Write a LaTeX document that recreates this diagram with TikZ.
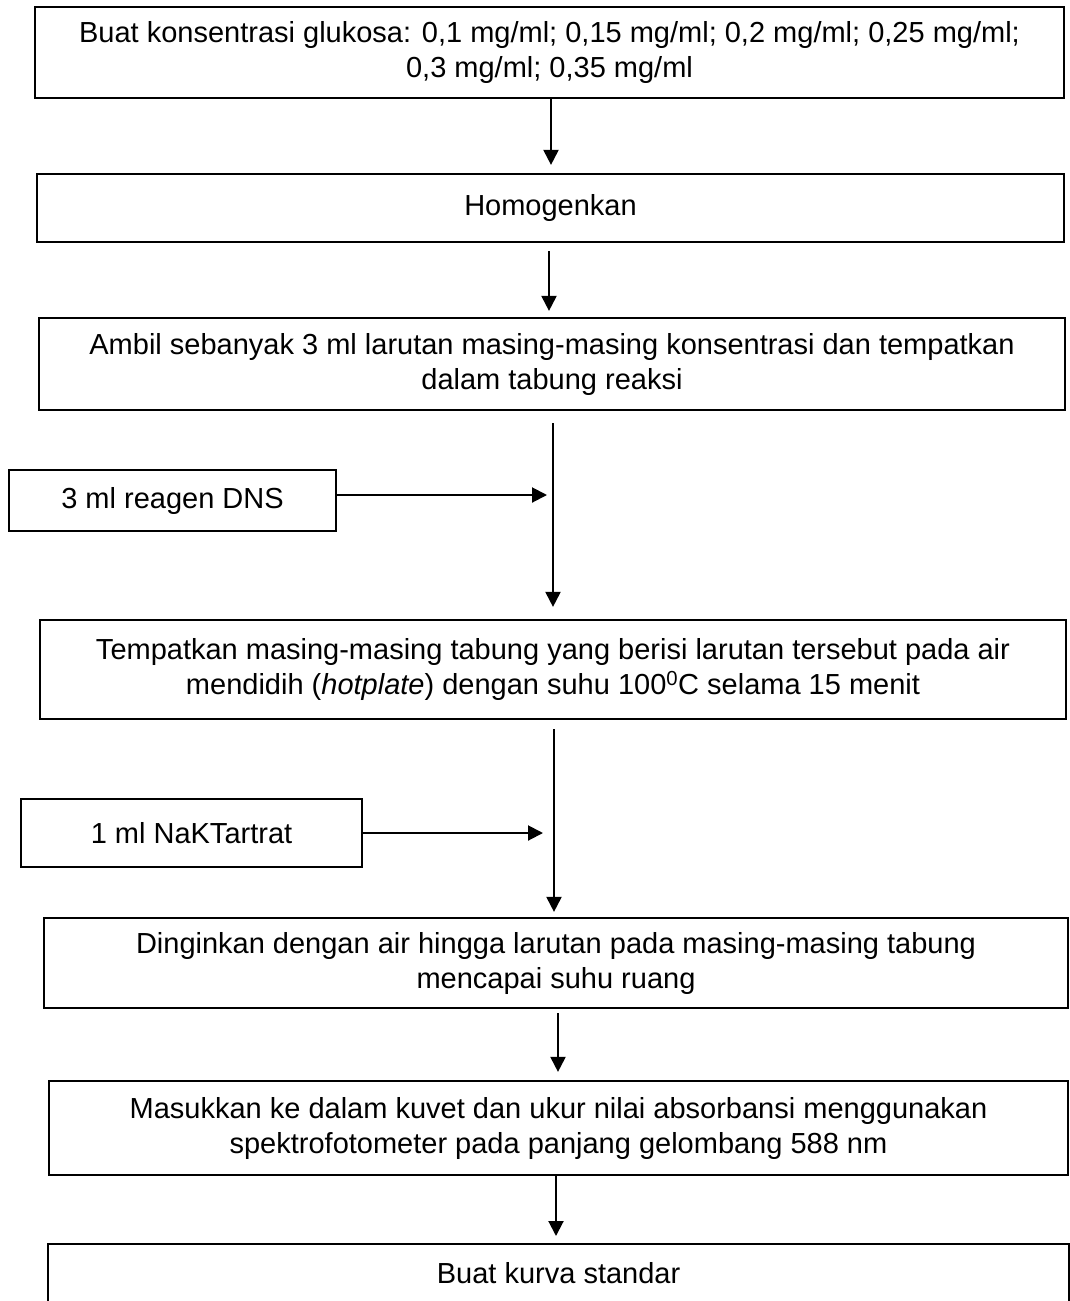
\documentclass[tikz,border=0pt]{standalone}
\usepackage{fontspec}
\setmainfont{Liberation Sans}
\usetikzlibrary{arrows.meta}
\begin{document}
\begin{tikzpicture}[x=1pt,y=-1pt,
  box/.style={draw=black, line width=2.2pt, inner sep=0pt, align=center, font=\fontsize{29}{35}\selectfont},
  arr/.style={line width=2pt, -{Triangle[length=15pt,width=15pt]}}]
\useasboundingbox (0,0) rectangle (1069,1301);
\node[box, minimum width=1029pt, minimum height=91pt] (b1) at (549.5,52.5)
  {Buat konsentrasi glukosa: 0,1 mg/ml; 0,15 mg/ml; 0,2 mg/ml; 0,25 mg/ml;\\ 0,3 mg/ml; 0,35 mg/ml};
\node[box, minimum width=1027pt, minimum height=68pt] (b2) at (550.5,208) {Homogenkan};
\node[box, minimum width=1026pt, minimum height=92pt] (b3) at (552,364)
  {Ambil sebanyak 3 ml larutan masing-masing konsentrasi dan tempatkan\\ dalam tabung reaksi};
\node[box, minimum width=327pt, minimum height=61pt] (dns) at (172.5,500.5) {3 ml reagen DNS};
\node[box, minimum width=1026pt, minimum height=99pt] (b4) at (553,669.5)
  {Tempatkan masing-masing tabung yang berisi larutan tersebut pada air\\ mendidih (\textit{hotplate}) dengan suhu 100\textsuperscript{0}C selama 15 menit};
\node[box, minimum width=341pt, minimum height=68pt] (nak) at (191.5,833) {1 ml NaKTartrat};
\node[box, minimum width=1024pt, minimum height=90pt] (b5) at (556,963)
  {Dinginkan dengan air hingga larutan pada masing-masing tabung\\ mencapai suhu ruang};
\node[box, minimum width=1019pt, minimum height=94pt] (b6) at (558.5,1128)
  {Masukkan ke dalam kuvet dan ukur nilai absorbansi menggunakan\\ spektrofotometer pada panjang gelombang 588 nm};
\node[box, anchor=north west, minimum width=1021pt, text height=39pt, text depth=60pt] (b7) at (47,1243)
  {Buat kurva standar};

\draw[arr, shorten >=8pt] ([xshift=1.5pt]b1.south) -- ([xshift=1.5pt]b1.south |- b2.north);
\draw[arr, shorten <=8pt, shorten >=6pt] ([xshift=-1.5pt]b2.south) -- ([xshift=-1.5pt]b2.south |- b3.north);
\draw[arr, shorten <=12pt, shorten >=12pt] ([xshift=1pt]b3.south) -- ([xshift=1pt]b3.south |- b4.north);
\draw[arr, shorten >=5pt] ([yshift=5.5pt]dns.east) -- ([yshift=5.5pt]dns.east -| b3.south);
\draw[arr, shorten <=9pt, shorten >=5pt] ([xshift=1pt]b4.south) -- ([xshift=1pt]b4.south |- b5.north);
\draw[arr, shorten >=10pt] (nak.east) -- (nak.east -| b4.south);
\draw[arr, shorten <=4pt, shorten >=8pt] ([xshift=2pt]b5.south) -- ([xshift=2pt]b5.south |- b6.north);
\draw[arr, shorten >=7pt] ([xshift=-2.5pt]b6.south) -- ([xshift=-2.5pt]b6.south |- b7.north);
\end{tikzpicture}
\end{document}
